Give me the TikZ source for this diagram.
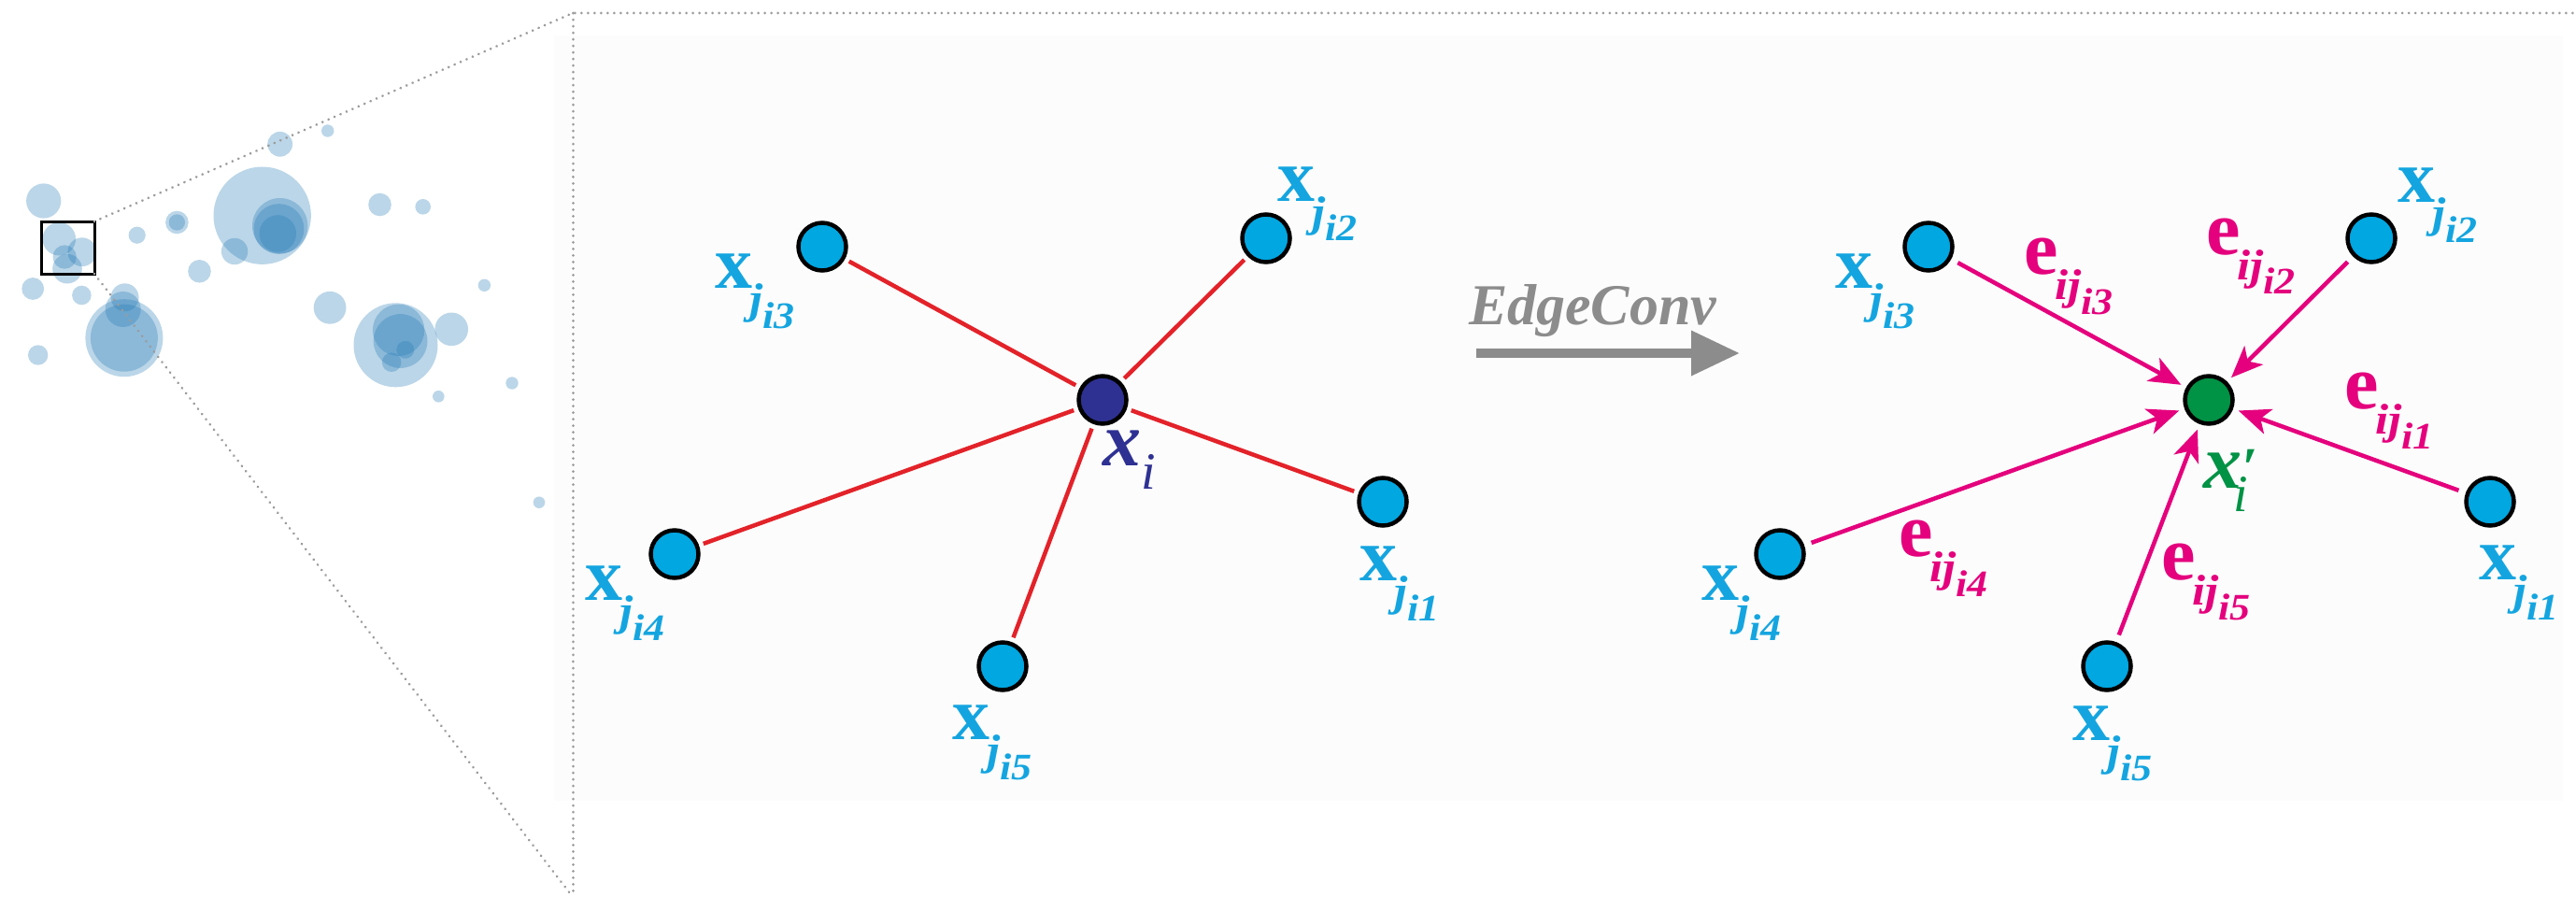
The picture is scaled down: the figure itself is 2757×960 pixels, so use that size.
\documentclass[tikz,border=0pt]{standalone}
\usepackage{fontspec}
\setmainfont{Liberation Serif}
\usepackage{graphicx}
\usetikzlibrary{arrows.meta}
\definecolor{ptblue}{HTML}{1F77B4}
\definecolor{nodeblue}{HTML}{00A7E1}
\definecolor{labblue}{HTML}{14A5E0}
\definecolor{navyc}{HTML}{2E3192}
\definecolor{nodegreen}{HTML}{009245}
\definecolor{edgered}{HTML}{E32229}
\definecolor{emag}{HTML}{E5007D}
\definecolor{arrgray}{HTML}{8C8C8C}
\definecolor{dotgray}{HTML}{9B9B9B}
\definecolor{panelbg}{HTML}{FCFCFC}

\newcommand{\subpair}[2]{\kern-3pt\raisebox{-27pt}{\scalebox{1.1}[1]{\fontsize{46}{46}\selectfont\bfseries\itshape #1}}\raisebox{-43pt}{\scalebox{1.1}[1]{\fontsize{40}{40}\selectfont\bfseries\itshape #2}}}
\newcommand{\xjl}[1]{{\fontsize{80}{80}\selectfont\bfseries x}\subpair{j}{i#1}}
\newcommand{\eijl}[1]{{\fontsize{82}{82}\selectfont\bfseries e}\subpair{ij}{i#1}}

\tikzset{
  gnode/.style={circle, draw=black, line width=4.5pt, minimum size=51pt, inner sep=0pt},
  nb/.style={gnode, fill=nodeblue},
  lab/.style={anchor=base west, inner sep=0pt, outer sep=0pt},
  redge/.style={draw=edgered, line width=4.5pt, shorten <=5pt, shorten >=5pt},
  marr/.style={draw=emag, line width=4.5pt, -{Stealth[length=34pt,width=28pt,inset=9pt]}, shorten <=8pt, shorten >=6pt},
  dotline/.style={draw=dotgray, line width=3pt, line cap=round, dash pattern=on 0.01pt off 7pt},
}

\begin{document}
\begin{tikzpicture}[x=1pt, y=-1pt]
\useasboundingbox (0,0) rectangle (2757,960);

% panel background
\fill[panelbg] (593,38) rectangle (2743,857);

% point cloud
\foreach \pa/\pb/\pc in {46.7/215/18.6, 299.7/154.3/13.4, 350.7/140/6.7, 280.7/230.7/52.2,
  299.7/241.7/29.7, 298.5/245/26.9, 297.3/250/19.8, 251.1/269/14.2, 406.5/219/12.3,
  452.7/221.3/8.3, 146.7/251.7/9.1, 189.4/238/12.3, 189.4/238/8.7, 213.5/290.3/12.3,
  63.3/255.7/17.8, 87.8/269.7/15.4, 69.2/275/12.7, 72/287.7/15.8, 35.2/309/11.9,
  87.4/316/10.3, 40.7/380/10.7, 133.6/318.3/15, 131.7/331/19, 132.9/361.7/41.5,
  132.9/361.7/36, 353.1/329.3/17.4, 423.5/369.3/45, 426.6/353.3/27.7, 428.6/365/28.9,
  433.8/374.3/9.5, 419.1/387.7/10.3, 483.2/352.3/17.8, 518.4/305.3/6.7, 548/410/6.7,
  469.3/424.3/6.3, 577/537.7/6.3}
  \fill[ptblue, fill opacity=0.3] (\pa,\pb) circle[radius=\pc pt];

% zoom box and dotted guides
\draw[black, line width=3pt] (44,237) rectangle (101,293);
\draw[dotline] (101,237) -- (613,14) -- (2757,14);
\draw[dotline] (101,293) -- (613,960);
\draw[dotline] (613,14) -- (613,960);

% ---------- left graph ----------
\node[gnode, fill=navyc] (xi) at (1180,428) {};
\node[nb] (j1) at (1480,537) {};
\node[nb] (j2) at (1355,255) {};
\node[nb] (j3) at (880,264) {};
\node[nb] (j4) at (722,593) {};
\node[nb] (j5) at (1073,713) {};
\foreach \n in {j1,j2,j3,j4,j5} \draw[redge] (\n) -- (xi);

\node[lab, text=labblue] (lj3) at (765,308) {\xjl{3}};
\node[lab, text=labblue] (lj2) at (1367,215) {\xjl{2}};
\node[lab, text=labblue] (lj4) at (626,642) {\xjl{4}};
\node[lab, text=labblue] (lj5) at (1019,791) {\xjl{5}};
\node[lab, text=labblue] (lj1) at (1455,621) {\xjl{1}};
\node[lab, text=navyc] (lxi) at (1180,498) {{\fontsize{82}{82}\selectfont\bfseries\itshape x}\raisebox{-25pt}{\fontsize{56}{56}\selectfont\itshape i}};

% ---------- EdgeConv arrow ----------
\node[lab, text=arrgray] (ectext) at (1572,347) {\fontsize{62}{62}\selectfont\bfseries\itshape EdgeConv};
\coordinate (ecs) at (1580,378);
\coordinate (ece) at (1862,378);
\draw[arrgray, line width=10pt, -{Triangle[length=52pt,width=46pt]}] (ecs) -- (ece);

% ---------- right graph ----------
\node[gnode, fill=nodegreen] (xp) at (2364,428) {};
\node[nb] (k1) at (2665,537) {};
\node[nb] (k2) at (2538,255) {};
\node[nb] (k3) at (2064,264) {};
\node[nb] (k4) at (1905,593) {};
\node[nb] (k5) at (2255,713) {};
\foreach \n in {k1,k2,k3,k4,k5} \draw[marr] (\n) -- (xp);

\node[lab, text=labblue] (rj3) at (1964,308) {\xjl{3}};
\node[lab, text=labblue] (rj2) at (2566,217) {\xjl{2}};
\node[lab, text=labblue] (rj4) at (1821,642) {\xjl{4}};
\node[lab, text=labblue] (rj5) at (2218,792) {\xjl{5}};
\node[lab, text=labblue] (rj1) at (2653,620) {\xjl{1}};
\node[lab, text=nodegreen] (rxp) at (2358,522) {{\fontsize{82}{82}\selectfont\bfseries\itshape x}\rlap{\raisebox{2pt}{\fontsize{60}{60}\selectfont\bfseries\itshape\symbol{"2032}}}\kern-9pt\raisebox{-25pt}{\fontsize{56}{56}\selectfont\itshape i}};

\node[lab, text=emag] (e3) at (2166,293) {\eijl{3}};
\node[lab, text=emag] (e2) at (2361,272) {\eijl{2}};
\node[lab, text=emag] (e1) at (2509,437) {\eijl{1}};
\node[lab, text=emag] (e4) at (2032,595) {\eijl{4}};
\node[lab, text=emag] (e5) at (2313,620) {\eijl{5}};
\end{tikzpicture}
\end{document}
